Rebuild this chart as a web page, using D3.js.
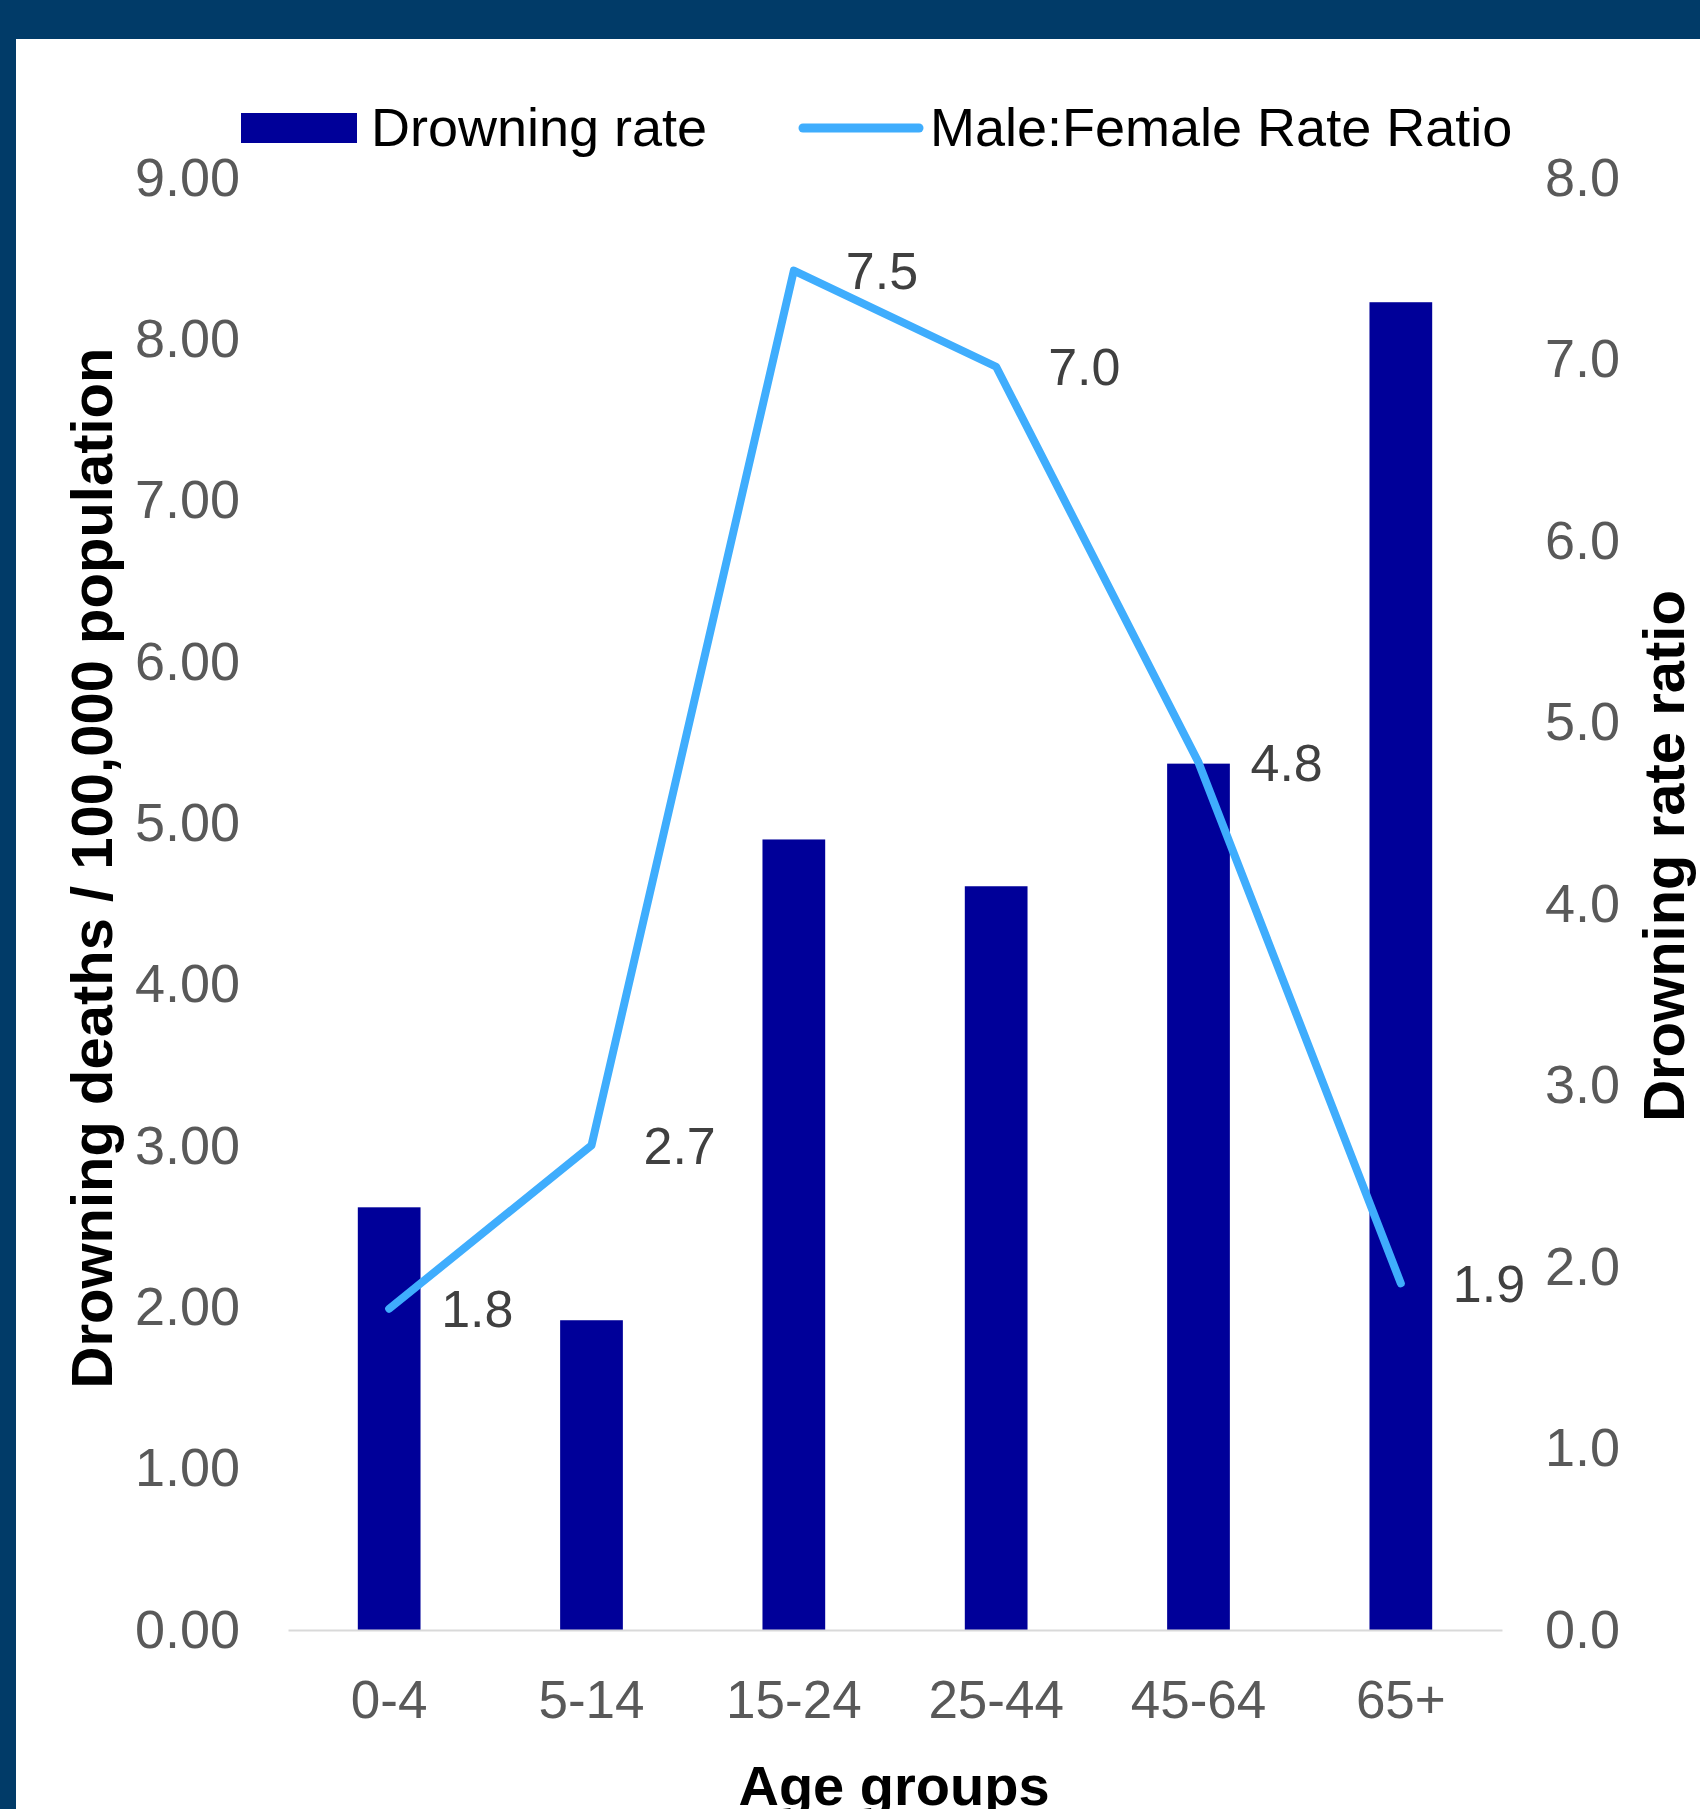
<!DOCTYPE html>
<html>
<head>
<meta charset="utf-8">
<script src="https://cdn.jsdelivr.net/npm/d3@7"></script>
<style>
	body { margin: 0; background: #013b68; }
	svg { display: block; }
	text { font-family: "Liberation Sans", Arial, sans-serif; }
</style>
</head>
<body>
<main></main>
<script>
const ageGroups = ["0-4", "5-14", "15-24", "25-44", "45-64", "65+"];
const drowningRate = [2.62, 1.92, 4.90, 4.61, 5.37, 8.23];
const rateRatio = [1.77, 2.67, 7.49, 6.96, 4.78, 1.91];
const leftTicks = [0, 1, 2, 3, 4, 5, 6, 7, 8, 9];
const rightTicks = [0, 1, 2, 3, 4, 5, 6, 7, 8];

const w = 1700,
	h = 1809,
	plotLeft = 288,
	plotRight = 1502,
	plotTop = 178,
	plotBottom = 1630;

const svg = d3.select("main")
	.append("svg")
	.attr("width", w)
	.attr("height", h);

// dark frame, white plot card
svg.append("rect").attr("width", w).attr("height", h).attr("fill", "#013b68");
svg.append("rect")
	.attr("x", 16).attr("y", 39)
	.attr("width", w - 16).attr("height", h - 39)
	.attr("fill", "#ffffff");

const xScale = d3.scaleBand()
	.domain(ageGroups)
	.range([plotLeft, plotRight])
	.padding(0);

const yLeft = d3.scaleLinear().domain([0, 9]).range([plotBottom, plotTop]);
const yRight = d3.scaleLinear().domain([0, 8]).range([plotBottom, plotTop]);

const barW = xScale.bandwidth() * 0.31;

// bars
svg.selectAll("rect.bar")
	.data(drowningRate)
	.enter()
	.append("rect")
	.attr("class", "bar")
	.attr("x", (d, i) => xScale(ageGroups[i]) + xScale.bandwidth() / 2 - barW / 2)
	.attr("y", d => yLeft(d))
	.attr("width", barW)
	.attr("height", d => yLeft(0) - yLeft(d))
	.attr("fill", "#000099");

// x axis
const xAxis = d3.axisBottom(xScale).tickSize(0).tickSizeOuter(0).tickPadding(50);
const gx = svg.append("g")
	.attr("transform", "translate(0," + plotBottom + ")")
	.call(xAxis);
gx.select(".domain").attr("stroke", "#d9d9d9").attr("stroke-width", 2);
gx.selectAll("text").attr("fill", "#595959").style("font-size", "53px");

// left axis
const yAxisL = d3.axisLeft(yLeft).tickValues(leftTicks).tickFormat(d3.format(".2f")).tickSize(0).tickPadding(48);
const gl = svg.append("g")
	.attr("transform", "translate(" + plotLeft + ",0)")
	.call(yAxisL);
gl.select(".domain").remove();
gl.selectAll("text").attr("fill", "#595959").style("font-size", "54px");

// right axis
const yAxisR = d3.axisRight(yRight).tickValues(rightTicks).tickFormat(d3.format(".1f")).tickSize(0).tickPadding(43);
const gr = svg.append("g")
	.attr("transform", "translate(" + plotRight + ",0)")
	.call(yAxisR);
gr.select(".domain").remove();
gr.selectAll("text").attr("fill", "#595959").style("font-size", "54px");

// data labels for ratio (drawn under the line)
svg.selectAll("text.lbl")
	.data(rateRatio)
	.enter()
	.append("text")
	.attr("class", "lbl")
	.attr("x", (d, i) => xScale(ageGroups[i]) + xScale.bandwidth() / 2 + 52)
	.attr("y", d => yRight(d))
	.attr("dy", "0.35em")
	.attr("fill", "#404040")
	.style("font-size", "52px")
	.text(d => d3.format(".1f")(d));

// ratio line
const line = d3.line()
	.x((d, i) => xScale(ageGroups[i]) + xScale.bandwidth() / 2)
	.y(d => yRight(d));
svg.append("path")
	.datum(rateRatio)
	.attr("d", line)
	.attr("fill", "none")
	.attr("stroke", "#3fadfd")
	.attr("stroke-width", 8)
	.attr("stroke-linecap", "round")
	.attr("stroke-linejoin", "round");

// axis titles
svg.append("text")
	.attr("transform", "rotate(-90)")
	.attr("x", -868)
	.attr("y", 92)
	.attr("dy", "0.35em")
	.attr("text-anchor", "middle")
	.style("font-size", "58px")
	.style("font-weight", "bold")
	.text("Drowning deaths / 100,000 population");

svg.append("text")
	.attr("transform", "rotate(-90)")
	.attr("x", -856)
	.attr("y", 1664)
	.attr("dy", "0.35em")
	.attr("text-anchor", "middle")
	.style("font-size", "58px")
	.style("font-weight", "bold")
	.text("Drowning rate ratio");

svg.append("text")
	.attr("x", 894)
	.attr("y", 1805)
	.attr("text-anchor", "middle")
	.style("font-size", "56px")
	.style("font-weight", "bold")
	.text("Age groups");

// legend
svg.append("rect")
	.attr("x", 241).attr("y", 113)
	.attr("width", 116).attr("height", 30)
	.attr("fill", "#000099");
svg.append("text")
	.attr("x", 371).attr("y", 127)
	.attr("dy", "0.35em")
	.style("font-size", "54px")
	.text("Drowning rate");

svg.append("line")
	.attr("x1", 803).attr("x2", 919)
	.attr("y1", 128).attr("y2", 128)
	.attr("stroke", "#3fadfd")
	.attr("stroke-width", 9)
	.attr("stroke-linecap", "round");
svg.append("text")
	.attr("x", 930).attr("y", 127)
	.attr("dy", "0.35em")
	.style("font-size", "54px")
	.text("Male:Female Rate Ratio");
</script>
</body>
</html>
